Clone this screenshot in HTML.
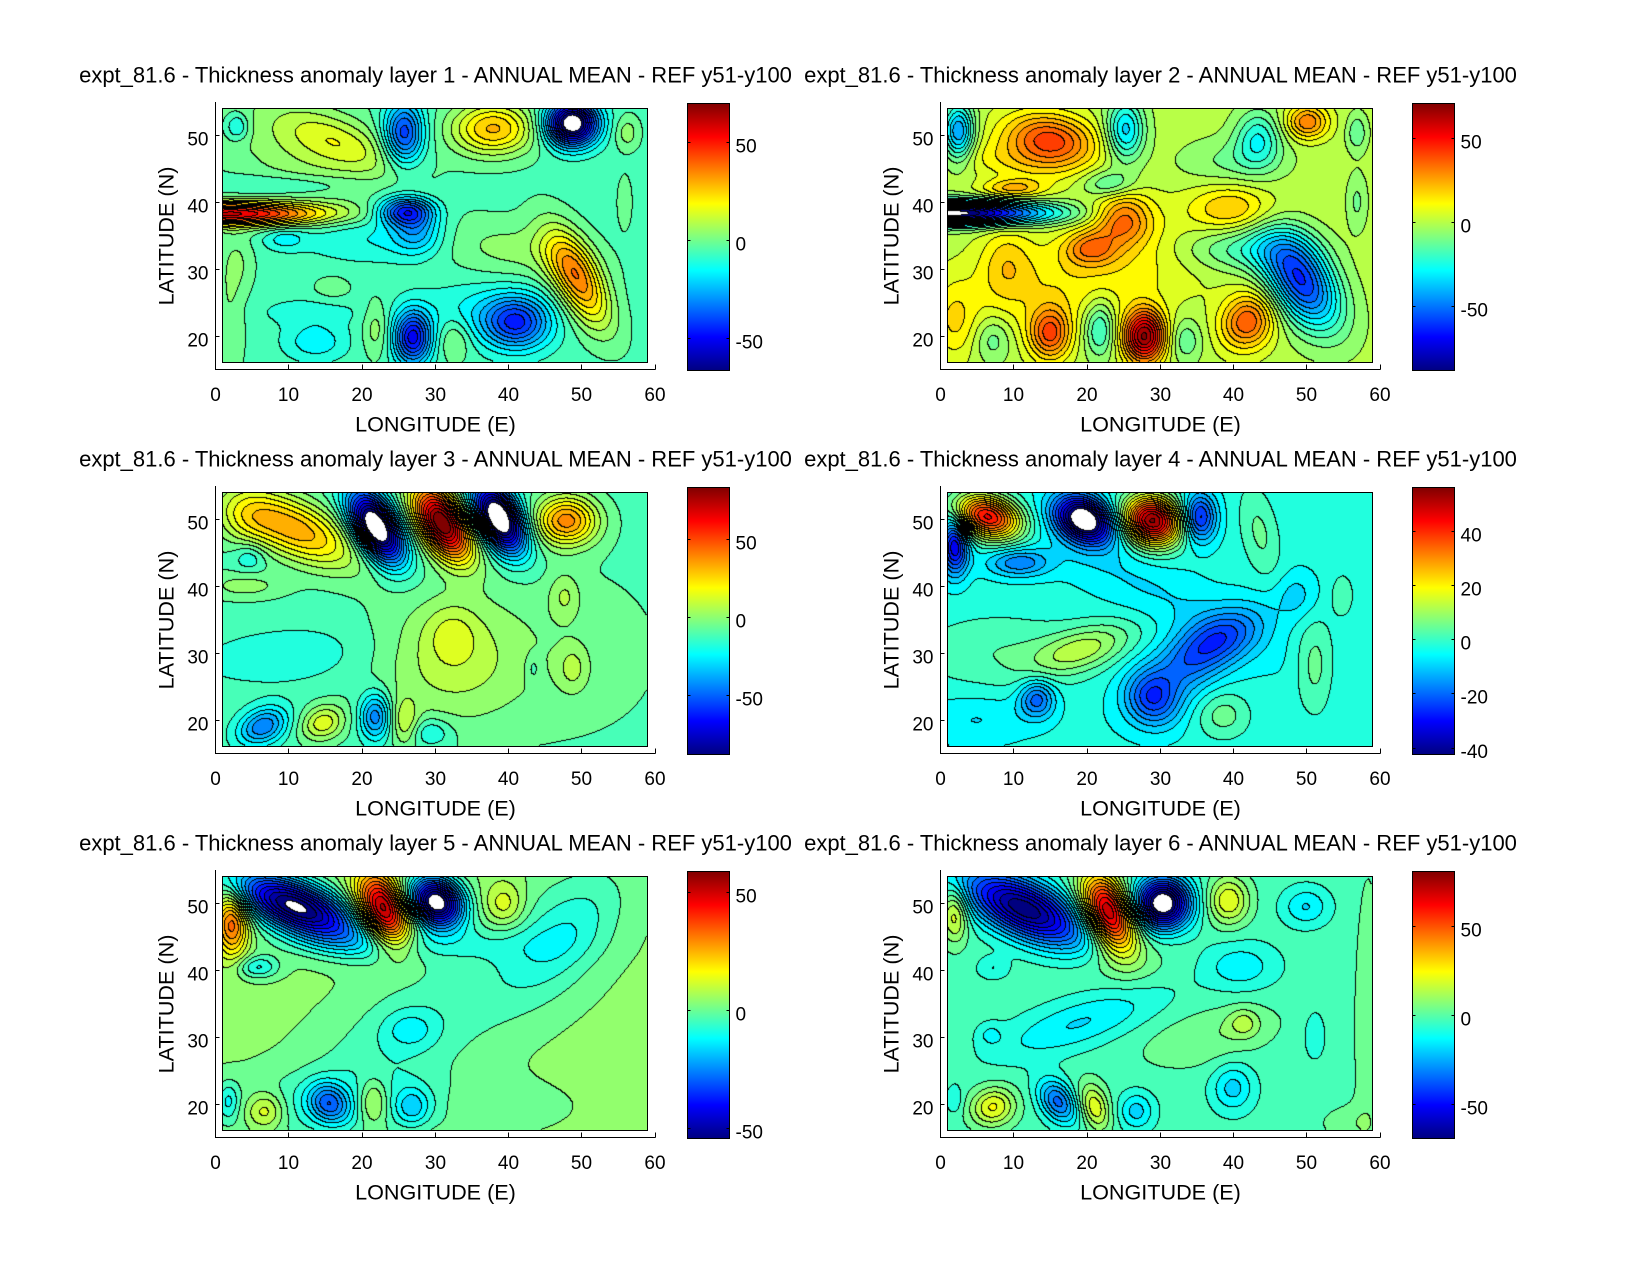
<!DOCTYPE html>
<html><head><meta charset="utf-8">
<style>
html,body{margin:0;padding:0;background:#fff;}
#wrap{position:relative;width:1650px;height:1275px;overflow:hidden;background:#fff;}
#wrap svg{position:absolute;left:0;top:0;}
canvas{position:absolute;}
text{font-family:"Liberation Sans",Arial,sans-serif;fill:#000;}
.t{font-size:22px;}
.l{font-size:21.6px;}
.k{font-size:19px;}
</style></head><body><div id="wrap">
<canvas id="c0" width="424" height="253" style="left:223px;top:109px;background:#47ffb8"></canvas>
<canvas id="c1" width="424" height="253" style="left:948px;top:109px;background:#b8ff47"></canvas>
<canvas id="c2" width="424" height="253" style="left:223px;top:493px;background:#47ffb8"></canvas>
<canvas id="c3" width="424" height="253" style="left:948px;top:493px;background:#22ffdd"></canvas>
<canvas id="c4" width="424" height="253" style="left:223px;top:877px;background:#92ff6d"></canvas>
<canvas id="c5" width="424" height="253" style="left:948px;top:877px;background:#47ffb8"></canvas>
<svg width="1650" height="1275" xmlns="http://www.w3.org/2000/svg">
<defs><linearGradient id="jet" x1="0" y1="1" x2="0" y2="0">
<stop offset="0" stop-color="#000080"/><stop offset="0.125" stop-color="#0000ff"/><stop offset="0.375" stop-color="#00ffff"/><stop offset="0.625" stop-color="#ffff00"/><stop offset="0.875" stop-color="#ff0000"/><stop offset="1" stop-color="#800000"/></linearGradient></defs>

<!-- Panel 1 -->
<g transform="translate(0,0)">
<text class="t" x="435.5" y="82.5" text-anchor="middle">expt_81.6 - Thickness anomaly layer 1 - ANNUAL MEAN - REF y51-y100</text>
<rect x="222.5" y="108.5" width="425" height="254" fill="none" stroke="#000"/>
<path d="M215.5,102V369.5H655.5M288.5,369.5v-5M362.5,369.5v-5M435.5,369.5v-5M508.5,369.5v-5M581.5,369.5v-5M655.5,369.5v-5M215.5,336.5h4M215.5,269.5h4M215.5,202.5h4M215.5,135.5h4" stroke="#000" fill="none"/>
<g class="k" text-anchor="middle"><text x="215.5" y="401">0</text><text x="288.5" y="401">10</text><text x="362" y="401">20</text><text x="435.5" y="401">30</text><text x="508.5" y="401">40</text><text x="581.5" y="401">50</text><text x="655" y="401">60</text></g>
<g class="k" text-anchor="end"><text x="208.5" y="346.5">20</text><text x="208.5" y="279.5">30</text><text x="208.5" y="212.5">40</text><text x="208.5" y="145.5">50</text></g>
<text class="l" x="435.5" y="431.5" text-anchor="middle">LONGITUDE (E)</text>
<text class="l" transform="translate(173.5,236) rotate(-90)" text-anchor="middle">LATITUDE (N)</text>
<rect x="687.5" y="103.5" width="42" height="267" fill="url(#jet)" stroke="#000"/>
<path d="M687.5,142.5h3M729.5,142.5h-3M687.5,240.5h3M729.5,240.5h-3M687.5,338.5h3M729.5,338.5h-3" stroke="#000"/>
<g class="k"><text x="735.5" y="152.5">50</text><text x="735.5" y="250.5">0</text><text x="735.5" y="348.5">-50</text></g>
</g>

<!-- Panel 2 -->
<g transform="translate(725,0)">
<text class="t" x="435.5" y="82.5" text-anchor="middle">expt_81.6 - Thickness anomaly layer 2 - ANNUAL MEAN - REF y51-y100</text>
<rect x="222.5" y="108.5" width="425" height="254" fill="none" stroke="#000"/>
<path d="M215.5,102V369.5H655.5M288.5,369.5v-5M362.5,369.5v-5M435.5,369.5v-5M508.5,369.5v-5M581.5,369.5v-5M655.5,369.5v-5M215.5,336.5h4M215.5,269.5h4M215.5,202.5h4M215.5,135.5h4" stroke="#000" fill="none"/>
<g class="k" text-anchor="middle"><text x="215.5" y="401">0</text><text x="288.5" y="401">10</text><text x="362" y="401">20</text><text x="435.5" y="401">30</text><text x="508.5" y="401">40</text><text x="581.5" y="401">50</text><text x="655" y="401">60</text></g>
<g class="k" text-anchor="end"><text x="208.5" y="346.5">20</text><text x="208.5" y="279.5">30</text><text x="208.5" y="212.5">40</text><text x="208.5" y="145.5">50</text></g>
<text class="l" x="435.5" y="431.5" text-anchor="middle">LONGITUDE (E)</text>
<text class="l" transform="translate(173.5,236) rotate(-90)" text-anchor="middle">LATITUDE (N)</text>
<rect x="687.5" y="103.5" width="42" height="267" fill="url(#jet)" stroke="#000"/>
<path d="M687.5,138.5h3M729.5,138.5h-3M687.5,222.5h3M729.5,222.5h-3M687.5,306.5h3M729.5,306.5h-3" stroke="#000"/>
<g class="k"><text x="735.5" y="148.5">50</text><text x="735.5" y="232.5">0</text><text x="735.5" y="316.5">-50</text></g>
</g>

<!-- Panel 3 -->
<g transform="translate(0,384)">
<text class="t" x="435.5" y="82.5" text-anchor="middle">expt_81.6 - Thickness anomaly layer 3 - ANNUAL MEAN - REF y51-y100</text>
<rect x="222.5" y="108.5" width="425" height="254" fill="none" stroke="#000"/>
<path d="M215.5,102V369.5H655.5M288.5,369.5v-5M362.5,369.5v-5M435.5,369.5v-5M508.5,369.5v-5M581.5,369.5v-5M655.5,369.5v-5M215.5,336.5h4M215.5,269.5h4M215.5,202.5h4M215.5,135.5h4" stroke="#000" fill="none"/>
<g class="k" text-anchor="middle"><text x="215.5" y="401">0</text><text x="288.5" y="401">10</text><text x="362" y="401">20</text><text x="435.5" y="401">30</text><text x="508.5" y="401">40</text><text x="581.5" y="401">50</text><text x="655" y="401">60</text></g>
<g class="k" text-anchor="end"><text x="208.5" y="346.5">20</text><text x="208.5" y="279.5">30</text><text x="208.5" y="212.5">40</text><text x="208.5" y="145.5">50</text></g>
<text class="l" x="435.5" y="431.5" text-anchor="middle">LONGITUDE (E)</text>
<text class="l" transform="translate(173.5,236) rotate(-90)" text-anchor="middle">LATITUDE (N)</text>
<rect x="687.5" y="103.5" width="42" height="267" fill="url(#jet)" stroke="#000"/>
<path d="M687.5,155.5h3M729.5,155.5h-3M687.5,233.5h3M729.5,233.5h-3M687.5,311.5h3M729.5,311.5h-3" stroke="#000"/>
<g class="k"><text x="735.5" y="165.5">50</text><text x="735.5" y="243.5">0</text><text x="735.5" y="321.5">-50</text></g>
</g>

<!-- Panel 4 -->
<g transform="translate(725,384)">
<text class="t" x="435.5" y="82.5" text-anchor="middle">expt_81.6 - Thickness anomaly layer 4 - ANNUAL MEAN - REF y51-y100</text>
<rect x="222.5" y="108.5" width="425" height="254" fill="none" stroke="#000"/>
<path d="M215.5,102V369.5H655.5M288.5,369.5v-5M362.5,369.5v-5M435.5,369.5v-5M508.5,369.5v-5M581.5,369.5v-5M655.5,369.5v-5M215.5,336.5h4M215.5,269.5h4M215.5,202.5h4M215.5,135.5h4" stroke="#000" fill="none"/>
<g class="k" text-anchor="middle"><text x="215.5" y="401">0</text><text x="288.5" y="401">10</text><text x="362" y="401">20</text><text x="435.5" y="401">30</text><text x="508.5" y="401">40</text><text x="581.5" y="401">50</text><text x="655" y="401">60</text></g>
<g class="k" text-anchor="end"><text x="208.5" y="346.5">20</text><text x="208.5" y="279.5">30</text><text x="208.5" y="212.5">40</text><text x="208.5" y="145.5">50</text></g>
<text class="l" x="435.5" y="431.5" text-anchor="middle">LONGITUDE (E)</text>
<text class="l" transform="translate(173.5,236) rotate(-90)" text-anchor="middle">LATITUDE (N)</text>
<rect x="687.5" y="103.5" width="42" height="267" fill="url(#jet)" stroke="#000"/>
<path d="M687.5,147.5h3M729.5,147.5h-3M687.5,201.5h3M729.5,201.5h-3M687.5,255.5h3M729.5,255.5h-3M687.5,309.5h3M729.5,309.5h-3M687.5,364.5h3M729.5,364.5h-3" stroke="#000"/>
<g class="k"><text x="735.5" y="157.5">40</text><text x="735.5" y="211.5">20</text><text x="735.5" y="265.5">0</text><text x="735.5" y="319.5">-20</text><text x="735.5" y="374">-40</text></g>
</g>

<!-- Panel 5 -->
<g transform="translate(0,768)">
<text class="t" x="435.5" y="82.5" text-anchor="middle">expt_81.6 - Thickness anomaly layer 5 - ANNUAL MEAN - REF y51-y100</text>
<rect x="222.5" y="108.5" width="425" height="254" fill="none" stroke="#000"/>
<path d="M215.5,102V369.5H655.5M288.5,369.5v-5M362.5,369.5v-5M435.5,369.5v-5M508.5,369.5v-5M581.5,369.5v-5M655.5,369.5v-5M215.5,336.5h4M215.5,269.5h4M215.5,202.5h4M215.5,135.5h4" stroke="#000" fill="none"/>
<g class="k" text-anchor="middle"><text x="215.5" y="401">0</text><text x="288.5" y="401">10</text><text x="362" y="401">20</text><text x="435.5" y="401">30</text><text x="508.5" y="401">40</text><text x="581.5" y="401">50</text><text x="655" y="401">60</text></g>
<g class="k" text-anchor="end"><text x="208.5" y="346.5">20</text><text x="208.5" y="279.5">30</text><text x="208.5" y="212.5">40</text><text x="208.5" y="145.5">50</text></g>
<text class="l" x="435.5" y="431.5" text-anchor="middle">LONGITUDE (E)</text>
<text class="l" transform="translate(173.5,236) rotate(-90)" text-anchor="middle">LATITUDE (N)</text>
<rect x="687.5" y="103.5" width="42" height="267" fill="url(#jet)" stroke="#000"/>
<path d="M687.5,124.5h3M729.5,124.5h-3M687.5,242.5h3M729.5,242.5h-3M687.5,360.5h3M729.5,360.5h-3" stroke="#000"/>
<g class="k"><text x="735.5" y="134.5">50</text><text x="735.5" y="252.5">0</text><text x="735.5" y="370.5">-50</text></g>
</g>

<!-- Panel 6 -->
<g transform="translate(725,768)">
<text class="t" x="435.5" y="82.5" text-anchor="middle">expt_81.6 - Thickness anomaly layer 6 - ANNUAL MEAN - REF y51-y100</text>
<rect x="222.5" y="108.5" width="425" height="254" fill="none" stroke="#000"/>
<path d="M215.5,102V369.5H655.5M288.5,369.5v-5M362.5,369.5v-5M435.5,369.5v-5M508.5,369.5v-5M581.5,369.5v-5M655.5,369.5v-5M215.5,336.5h4M215.5,269.5h4M215.5,202.5h4M215.5,135.5h4" stroke="#000" fill="none"/>
<g class="k" text-anchor="middle"><text x="215.5" y="401">0</text><text x="288.5" y="401">10</text><text x="362" y="401">20</text><text x="435.5" y="401">30</text><text x="508.5" y="401">40</text><text x="581.5" y="401">50</text><text x="655" y="401">60</text></g>
<g class="k" text-anchor="end"><text x="208.5" y="346.5">20</text><text x="208.5" y="279.5">30</text><text x="208.5" y="212.5">40</text><text x="208.5" y="145.5">50</text></g>
<text class="l" x="435.5" y="431.5" text-anchor="middle">LONGITUDE (E)</text>
<text class="l" transform="translate(173.5,236) rotate(-90)" text-anchor="middle">LATITUDE (N)</text>
<rect x="687.5" y="103.5" width="42" height="267" fill="url(#jet)" stroke="#000"/>
<path d="M687.5,158.5h3M729.5,158.5h-3M687.5,247.5h3M729.5,247.5h-3M687.5,336.5h3M729.5,336.5h-3" stroke="#000"/>
<g class="k"><text x="735.5" y="168.5">50</text><text x="735.5" y="257.5">0</text><text x="735.5" y="346.5">-50</text></g>
</g>
</svg>
</div>
<script>
(function(){
function jet(t){
  function c(v){return Math.round(255*Math.min(1,Math.max(0,v)));}
  return [c(1.5-Math.abs(4*t-3)),c(1.5-Math.abs(4*t-2)),c(1.5-Math.abs(4*t-1))];
}
var P=[
{cmin:-66,cmax:70,base:-2.5,b:[
[48.8,51.8,2.4,2.3,0,-74],[38,51,4,2.8,0,33],[25.8,50.3,1.9,3.3,0,-38],
[13,48,9,5,-20,12],[17,49,6,2.3,-25,12],[3,51.3,1.1,1.4,0,-14],[56.3,50.4,1.2,1.8,0,10],
[56,40,0.7,2.8,0,6],[10,42.5,8,1.1,0,-7],[2,38.2,9,1.25,0,62],[26,38.6,2.6,1.5,0,-40],
[27.5,35.5,2.3,2.3,0,-18],[22,34.5,7,2.5,0,-9],[9.5,34.5,2,1.2,0,-10],[40,33,8,3,-10,9],
[49.5,28.5,5.5,2.2,-65,40],[41.2,21.8,3.2,2.8,0,-36],[36,23.5,6,3,0,-9],[27,19.6,1.8,2.8,0,-45],
[32.7,19.4,1.6,2.3,0,10],[22,21,1.3,3,0,10],[13.7,19,3,2,0,-12],[13,23.5,5,1.5,0,-6],
[2,24,1.5,8,0,7],[3.5,31,1.5,3,0,5],[16,27,2,1.5,0,5]]},
{cmin:-88,cmax:71,base:3,b:[
[2.5,50.5,1.5,3,0,-45],[15,49.2,4.5,2.8,-10,42],[9,46,6,2,-10,10],[25.3,50.8,1.8,3.2,0,-35],
[43.5,49.5,2.2,3,0,-25],[40,46,5,2.5,0,-10],[50.2,52,2,1.8,0,32],[57,50.4,1,2,0,-14],
[23,42.6,2.5,1.5,0,-18],[10,42,3,1,0,22],[1.5,38.3,9,1.25,0,-95],[25,37.5,2.8,2.8,0,32],
[20.5,33,2.5,1.8,0,25],[20,29,14,5,15,14],[9,31,2.5,4,0,14],[40,39,4,2.5,0,20],
[41,33,6,2.5,0,-20],[49.3,28.2,5.5,3,-62,-62],[7.2,19.4,1.8,2.5,0,-14],[15,20.2,2,2.8,0,38],
[21.8,21,1.5,3,0,-24],[27.9,19.8,2,2.8,0,68],[33.5,19.2,1.6,2.3,0,-14],[42,22,2.5,3,-20,38],
[2,22,2,4,0,12],[57,40,1,3,0,-10]]},
{cmin:-88,cmax:84,base:-8,b:[
[11,48.5,6.5,3,-28,45],[4,50,3,3,0,15],[22,48.8,4,2,-63,-100],[31,49.5,4.2,2.2,-62,100],
[38.8,50.2,3.8,2,-65,-100],[48,49.8,3,2.6,0,50],[4.7,44.3,1.5,1.5,0,-12],[47.8,38.5,1.5,2.5,0,12],
[32,29,7,7,10,18],[32.4,33,2.5,3,0,10],[10,29.5,9,3,5,-8],[4,40,4,1.5,0,12],
[6.5,18.9,2.5,1.8,30,-35],[14.7,19.4,2.2,1.8,30,26],[21.9,20.4,1.5,2.5,0,-35],[25.9,19.6,1.3,2.5,0,18],
[29.5,18,2,1.5,0,-14],[48.9,27.6,1.5,2.5,0,12],[43.5,27.6,0.7,1.5,0,-8],[48,30,10,10,0,6]]},
{cmin:-42.2,cmax:56.3,base:-1,b:[
[6.5,50.4,3.3,2.2,-20,48],[2,46,1.3,3,0,-30],[19.7,50,3,2.2,-35,-50],[29,49.8,2.8,2.5,-30,58],
[35.4,50.3,1.6,2.5,0,-26],[43.7,48,1.8,5,10,7],[10.7,43.5,3,1.5,0,-15],[28,40,14,3,-30,-5],
[38,32,5,2.5,30,-14],[29,23,2.5,3,20,-18],[34,28,6,3,40,-12],[19.5,30.5,5,2.2,20,14],
[8,30,8,4,0,6],[13.2,23,1.7,2,0,-18],[38.7,20.6,2.5,2.5,30,8],[51.2,28,1.8,5,0,8],
[48.7,38.6,2,2.5,0,-6],[55,38.6,1.2,2.5,0,5],[5,20,5,2.5,0,-5]]},
{cmin:-54.2,cmax:59.5,base:6,b:[
[2.3,47,1.6,3.5,0,32],[11,49.5,6.5,2.6,-25,-62],[23,49,4,2.2,-70,54],[30.2,50.2,2.8,2.4,-50,-66],
[39.5,49.8,2,2.5,0,12],[47,45,9,5,55,-9],[48,45,6.5,3,50,-4],[26,30,14,6,42,-9],
[26.6,31,2.5,2,0,-8],[18,19.5,16,3.5,0,-8],[5.8,40.4,2,1.2,0,-14],[25,44,12,2,0,-8],
[1.8,20.3,1,2,0,-10],[6.8,18.8,2,2,30,16],[15.5,20,1.8,2.2,30,-22],[21.6,20.1,1.5,2.5,0,16],
[27,19.4,1.6,2,0,-12],[33.8,19.8,1.5,2,0,4]]},
{cmin:-68.5,cmax:81,base:0.5,b:[
[2,48.5,1.3,3,0,25],[11.5,49.2,6.5,2.8,-28,-68],[23,48.6,4.2,2.2,-70,78],[30.4,50,2.6,2.6,-55,-80],
[39.4,50.4,2,2.5,0,25],[50,49.5,2.2,2,0,-14],[41,40.5,3.5,2.5,0,-12],[7.2,40.3,1.5,1.2,0,-8],
[19,32,8,2.5,20,-14],[6.8,30.3,1.2,1.2,0,-8],[37,30,7,3,15,8],[41.5,32,1.5,1.5,0,12],
[51.2,30.3,1,2.5,0,-8],[40,22.3,2,2.5,0,-16],[7.2,19.4,2.2,2,30,26],[16.1,20.2,1.6,2.5,30,-32],
[21.1,19.4,1.4,2.5,15,24],[26.8,18.8,1.7,2,0,-16],[2,20.5,0.8,1.5,0,-8],[58.5,30,1.5,20,0,6],
[56,17,3,2,0,6],[25,41,5,2.5,0,6]]}
];
P.forEach(function(p,i){
  var cv=document.getElementById('c'+i);
  if(!cv||!cv.getContext)return;
  var ctx=cv.getContext('2d');
  var W=cv.width,H=cv.height,img=ctx.createImageData(W,H),d=img.data;
  var N=27,dL=(p.cmax-p.cmin)/N,pal=[],k,x,y,j;
  for(k=0;k<=N;k++)pal.push(jet(k/N));
  var bs=p.b.map(function(b){var a=b[4]*Math.PI/180;return [b[0],b[1],1/(b[2]*b[2]),1/(b[3]*b[3]),Math.cos(a),Math.sin(a),b[5]];});
  var K=new Int16Array(W*H);
  for(y=0;y<H;y++){
    var lat=54-(y+0.5)/H*38;
    for(x=0;x<W;x++){
      var lon=1+(x+0.5)/W*58,f=p.base;
      for(j=0;j<bs.length;j++){
        var b=bs[j],dx=lon-b[0],dy=lat-b[1];
        var u=dx*b[4]+dy*b[5],v=-dx*b[5]+dy*b[4];
        var e=0.5*(u*u*b[2]+v*v*b[3]);
        if(e<30)f+=b[6]*Math.exp(-e);
      }
      k=Math.floor((f-p.cmin)/dL);
      if(k<0)k=-1;if(k>N)k=N;
      K[y*W+x]=k;
    }
  }
  for(y=0;y<H;y++){
    for(x=0;x<W;x++){
      var id=y*W+x,kk=K[id],o=id*4,col;
      var edge=(x<W-1&&K[id+1]!==kk)||(y<H-1&&K[id+W]!==kk);
      if(edge)col=[0,0,0];else if(kk<0)col=[255,255,255];else col=pal[kk];
      d[o]=col[0];d[o+1]=col[1];d[o+2]=col[2];d[o+3]=255;
    }
  }
  ctx.putImageData(img,0,0);
});
})();
</script>
</body></html>
